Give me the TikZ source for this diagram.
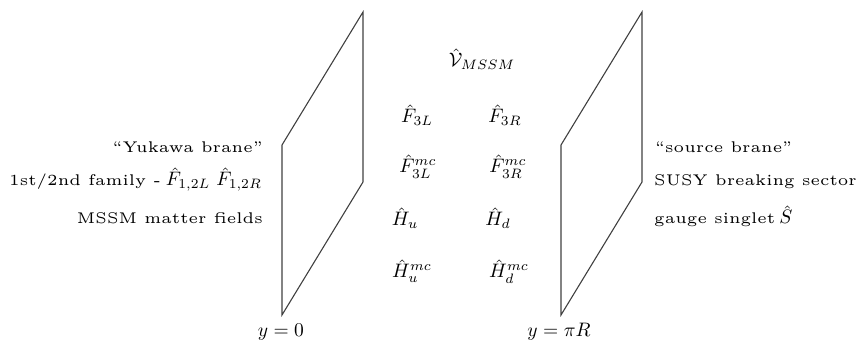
\documentclass[tikz,border=0pt]{standalone}
\newcommand{\Tx}[1]{\scalebox{3.1}{\tiny #1}}
\newcommand{\Mx}[1]{\scalebox{1.95}{$#1$}}
\begin{document}
\begin{tikzpicture}[x=1pt,y=-1pt,
  lbl/.style={inner sep=0pt},
  brane/.style={draw=black!75,line width=1.1pt,line join=miter}]
\useasboundingbox (0,0) rectangle (861,344);
% branes
\coordinate (l1) at (282,145); \coordinate (l2) at (363,12);
\coordinate (l3) at (363,182); \coordinate (l4) at (282,315);
\coordinate (r1) at (561,145); \coordinate (r2) at (642,12);
\coordinate (r3) at (642,182); \coordinate (r4) at (561,315);
\draw[brane] (l1) -- (l2) -- (l3) -- (l4) -- cycle;
\draw[brane] (r1) -- (r2) -- (r3) -- (r4) -- cycle;
% left texts
\node[lbl,anchor=base east] (ya) at (263,153) {\Tx{``Yukawa brane''}};
\node[lbl,anchor=base east] (fa) at (262,186) {\Tx{1st/2nd family -}\hspace{5pt}\Mx{\hat{F}_{1,2L}}\hspace{6pt}\Mx{\hat{F}_{1,2R}}};
\node[lbl,anchor=base east] (ma) at (263,224) {\Tx{MSSM matter fields}};
% right texts
\node[lbl,anchor=base west] (sb) at (655,153) {\Tx{``source brane''}};
\node[lbl,anchor=base west] (su) at (654,186) {\Tx{SUSY breaking sector}};
\node[lbl,anchor=base west] (gs) at (654,224) {\Tx{gauge singlet}\hspace{4pt}\Mx{\hat{S}}};
% middle
\node[lbl,anchor=base] (v) at (482,67) {\Mx{\hat{\mathcal{V}}_{MSSM}}};
\node[lbl,anchor=base] (f3l) at (417,123) {\Mx{\hat{F}_{3L}}};
\node[lbl,anchor=base] (f3r) at (505,123) {\Mx{\hat{F}_{3R}}};
\node[lbl,anchor=base] (f3lm) at (418,173) {\Mx{\hat{F}_{3L}^{mc}}};
\node[lbl,anchor=base] (f3rm) at (508,173) {\Mx{\hat{F}_{3R}^{mc}}};
\node[lbl,anchor=base] (hu) at (405,226) {\Mx{\hat{H}_u}};
\node[lbl,anchor=base] (hd) at (498,226) {\Mx{\hat{H}_d}};
\node[lbl,anchor=base] (hum) at (412,278) {\Mx{\hat{H}_u^{mc}}};
\node[lbl,anchor=base] (hdm) at (509,278) {\Mx{\hat{H}_d^{mc}}};
% labels
\node[lbl,anchor=base] (y0) at (281,336) {\Mx{y=0}};
\node[lbl,anchor=base] (ypi) at (559,336) {\Mx{y=\pi R}};
\end{tikzpicture}
\end{document}
